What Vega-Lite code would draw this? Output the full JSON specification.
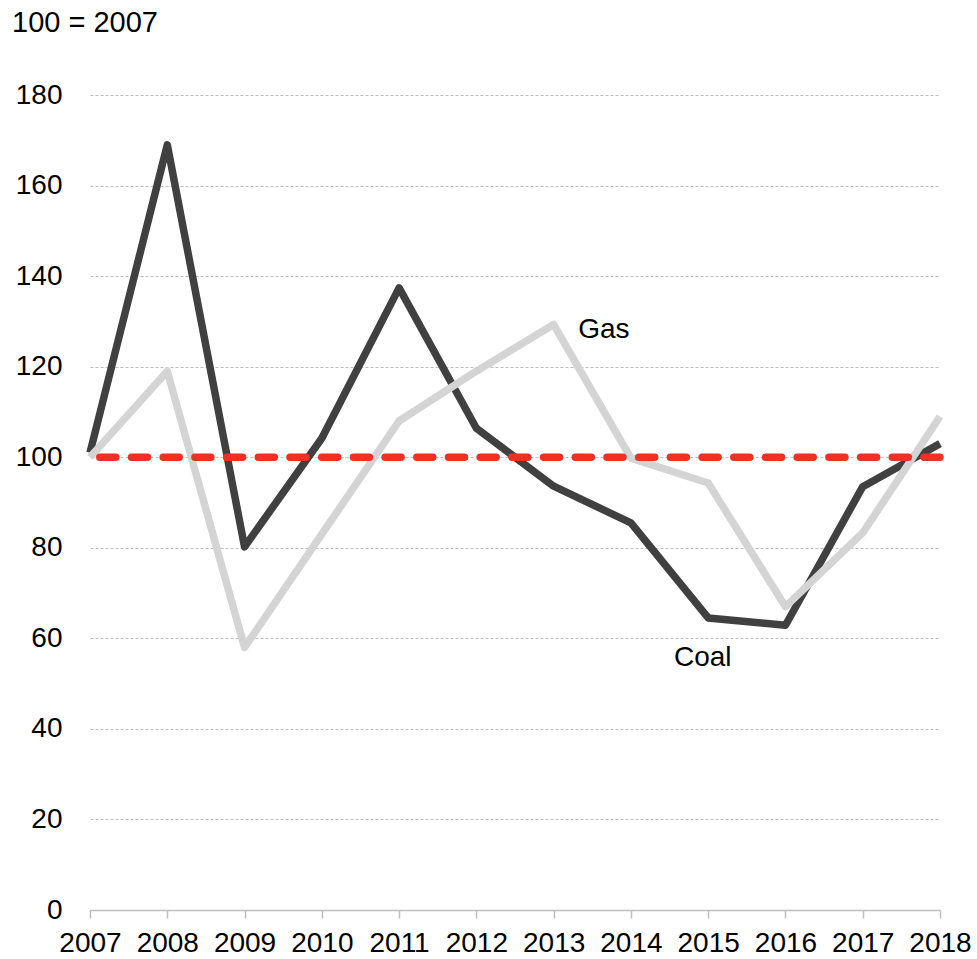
{
  "$schema": "https://vega.github.io/schema/vega-lite/v6.json",
  "width": 850,
  "height": 815,
  "autosize": "none",
  "padding": {"left": 90, "top": 95, "right": 37, "bottom": 49},
  "background": "white",
  "config": {
    "view": {"stroke": null},
    "font": "Liberation Sans"
  },
  "title": {
    "text": "100 = 2007",
    "anchor": "start",
    "frame": "group",
    "dx": -78,
    "offset": 20,
    "baseline": "alphabetic",
    "fontSize": 29,
    "fontWeight": "normal",
    "font": "Liberation Sans",
    "color": "#000000"
  },
  "datasets": {
    "series": [
      {"year": 2007, "series": "Coal", "value": 101},
      {"year": 2008, "series": "Coal", "value": 169},
      {"year": 2009, "series": "Coal", "value": 80.2},
      {"year": 2010, "series": "Coal", "value": 104.2},
      {"year": 2011, "series": "Coal", "value": 137.4},
      {"year": 2012, "series": "Coal", "value": 106.4},
      {"year": 2013, "series": "Coal", "value": 93.6},
      {"year": 2014, "series": "Coal", "value": 85.5},
      {"year": 2015, "series": "Coal", "value": 64.5},
      {"year": 2016, "series": "Coal", "value": 62.9},
      {"year": 2017, "series": "Coal", "value": 93.5},
      {"year": 2018, "series": "Coal", "value": 103},
      {"year": 2007, "series": "Gas", "value": 100},
      {"year": 2008, "series": "Gas", "value": 119},
      {"year": 2009, "series": "Gas", "value": 58},
      {"year": 2010, "series": "Gas", "value": 83},
      {"year": 2011, "series": "Gas", "value": 108},
      {"year": 2012, "series": "Gas", "value": 119},
      {"year": 2013, "series": "Gas", "value": 129.3},
      {"year": 2014, "series": "Gas", "value": 99.8},
      {"year": 2015, "series": "Gas", "value": 94.3},
      {"year": 2016, "series": "Gas", "value": 67},
      {"year": 2017, "series": "Gas", "value": 83.3},
      {"year": 2018, "series": "Gas", "value": 109}
    ],
    "labels": [
      {"year": 2013.65, "value": 128.1, "label": "Gas"},
      {"year": 2014.93, "value": 55.7, "label": "Coal"}
    ],
    "baseline": [
      {"value": 100}
    ]
  },
  "layer": [
    {
      "data": {"name": "series"},
      "mark": {"type": "line", "strokeWidth": 7.5, "strokeJoin": "round", "clip": false},
      "encoding": {
        "x": {
          "field": "year", "type": "quantitative",
          "scale": {"domain": [2007, 2018], "nice": false, "zero": false},
          "axis": {
            "title": null, "values": [2007, 2008, 2009, 2010, 2011, 2012, 2013, 2014, 2015, 2016, 2017, 2018],
            "format": "d", "grid": false, "domainColor": "#bfbfbf", "domainWidth": 1.5,
            "tickColor": "#bfbfbf", "tickSize": 8, "tickWidth": 1.5, "labelPadding": 11,
            "labelFlush": false, "labelOverlap": false,
            "labelFont": "Liberation Sans", "labelFontSize": 28, "labelColor": "#000000"
          }
        },
        "y": {
          "field": "value", "type": "quantitative",
          "scale": {"domain": [0, 180], "nice": false},
          "axis": {
            "title": null, "values": [0, 20, 40, 60, 80, 100, 120, 140, 160, 180],
            "domain": false, "ticks": false, "labelPadding": 28,
            "labelFont": "Liberation Sans", "labelFontSize": 28, "labelColor": "#000000",
            "grid": true, "gridColor": "#bdbdbd", "gridDash": [3, 2], "gridWidth": 1
          }
        },
        "color": {
          "field": "series", "type": "nominal",
          "scale": {"domain": ["Coal", "Gas"], "range": ["#404040", "#d4d4d4"]},
          "legend": null
        }
      }
    },
    {
      "data": {"name": "baseline"},
      "mark": {"type": "rule", "color": "#ee3124", "strokeWidth": 7.5, "strokeDash": [16, 15.7], "strokeCap": "round"},
      "encoding": {"y": {"field": "value", "type": "quantitative"}}
    },
    {
      "data": {"name": "labels"},
      "mark": {"type": "text", "fontSize": 28, "font": "Liberation Sans", "color": "#000000", "align": "center", "baseline": "middle"},
      "encoding": {
        "x": {"field": "year", "type": "quantitative"},
        "y": {"field": "value", "type": "quantitative"},
        "text": {"field": "label"}
      }
    }
  ]
}
